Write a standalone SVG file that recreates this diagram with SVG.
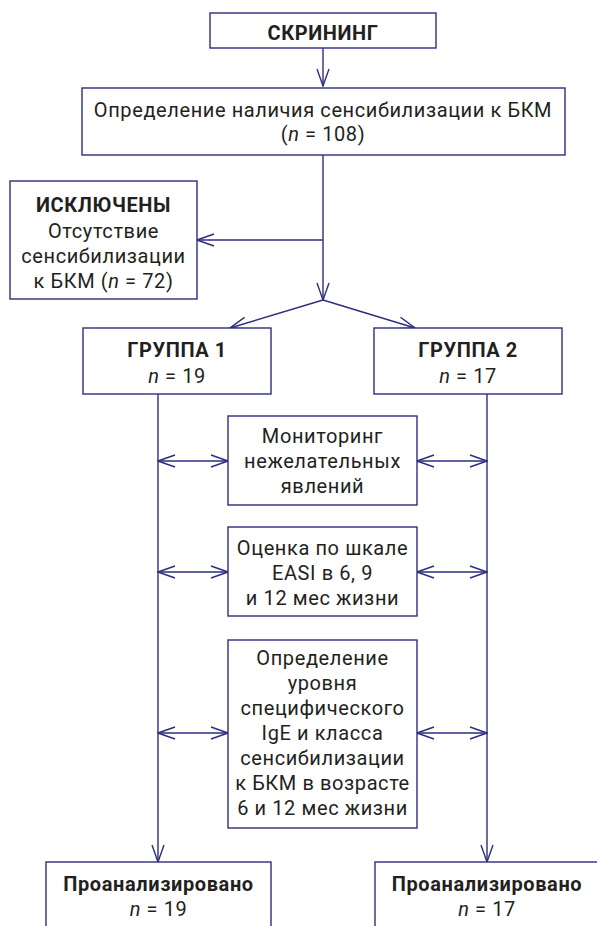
<svg xmlns="http://www.w3.org/2000/svg" width="597" height="926" viewBox="0 0 597 926">
<defs>
<style>
.box{fill:#fff;stroke:#2e2d7f;stroke-width:1.4}
.ln{fill:none;stroke:#2e2d7f;stroke-width:1.4}
text{font-family:Roboto,"Liberation Sans",sans-serif;font-size:20px;fill:#231f20;text-anchor:middle;letter-spacing:0.6px}
.b{font-weight:bold}
.i{font-style:italic}
</style>
<marker id="ah" viewBox="-18 -7 19 14" refX="0" refY="0" markerWidth="19" markerHeight="14" markerUnits="userSpaceOnUse" orient="auto-start-reverse">
<path d="M-17,-6 L0,0 L-17,6" fill="none" stroke="#2e2d7f" stroke-width="1.4"/>
</marker>
</defs>
<rect width="597" height="926" fill="#fff"/>
<g id="connectors">
<line class="ln" x1="323" y1="48" x2="323" y2="86" marker-end="url(#ah)"/>
<line class="ln" x1="323" y1="155" x2="323" y2="300" marker-end="url(#ah)"/>
<line class="ln" x1="323" y1="240" x2="197" y2="240" marker-end="url(#ah)"/>
<line class="ln" x1="323" y1="300" x2="230" y2="328" marker-end="url(#ah)"/>
<line class="ln" x1="323" y1="300" x2="415" y2="328" marker-end="url(#ah)"/>
<line class="ln" x1="158" y1="394" x2="158" y2="862" marker-end="url(#ah)"/>
<line class="ln" x1="487" y1="394" x2="487" y2="862" marker-end="url(#ah)"/>
<line class="ln" x1="158" y1="461" x2="228" y2="461" marker-start="url(#ah)" marker-end="url(#ah)"/>
<line class="ln" x1="417" y1="461" x2="487" y2="461" marker-start="url(#ah)" marker-end="url(#ah)"/>
<line class="ln" x1="158" y1="572" x2="228" y2="572" marker-start="url(#ah)" marker-end="url(#ah)"/>
<line class="ln" x1="417" y1="572" x2="487" y2="572" marker-start="url(#ah)" marker-end="url(#ah)"/>
<line class="ln" x1="158" y1="733" x2="228" y2="733" marker-start="url(#ah)" marker-end="url(#ah)"/>
<line class="ln" x1="417" y1="733" x2="487" y2="733" marker-start="url(#ah)" marker-end="url(#ah)"/>
</g>
<g id="screening">
<rect class="box" x="210" y="13" width="226" height="35"/>
<text class="b" x="323" y="40">СКРИНИНГ</text>
</g>
<g id="sensitization">
<rect class="box" x="82" y="88" width="483" height="67"/>
<text x="323" y="117">Определение наличия сенсибилизации к БКМ</text>
<text x="323" y="141">(<tspan class="i">n</tspan> = 108)</text>
</g>
<g id="excluded">
<rect class="box" x="10" y="181" width="187" height="118"/>
<text class="b" x="103.5" y="212">ИСКЛЮЧЕНЫ</text>
<text x="103.5" y="238">Отсутствие</text>
<text x="103.5" y="263">сенсибилизации</text>
<text x="103.5" y="288">к БКМ (<tspan class="i">n</tspan> = 72)</text>
</g>
<g id="group1">
<rect class="box" x="83" y="328" width="188" height="66"/>
<text class="b" x="177" y="357">ГРУППА 1</text>
<text x="177" y="383"><tspan class="i">n</tspan> = 19</text>
</g>
<g id="group2">
<rect class="box" x="374" y="328" width="188" height="66"/>
<text class="b" x="468" y="357">ГРУППА 2</text>
<text x="468" y="383"><tspan class="i">n</tspan> = 17</text>
</g>
<g id="monitoring">
<rect class="box" x="228" y="416" width="189" height="89"/>
<text x="322.5" y="443">Мониторинг</text>
<text x="322.5" y="468">нежелательных</text>
<text x="322.5" y="493">явлений</text>
</g>
<g id="easi">
<rect class="box" x="228" y="527" width="189" height="89"/>
<text x="322.5" y="555">Оценка по шкале</text>
<text x="322.5" y="580">EASI в 6, 9</text>
<text x="322.5" y="605">и 12 мес жизни</text>
</g>
<g id="ige">
<rect class="box" x="228" y="640" width="189" height="188"/>
<text x="322.5" y="665">Определение</text>
<text x="322.5" y="690">уровня</text>
<text x="322.5" y="715">специфического</text>
<text x="322.5" y="740">IgE и класса</text>
<text x="322.5" y="765">сенсибилизации</text>
<text x="322.5" y="790">к БКМ в возрасте</text>
<text x="322.5" y="815">6 и 12 мес жизни</text>
</g>
<g id="analyzed1">
<rect class="box" x="46" y="862" width="225" height="80"/>
<text class="b" x="158.5" y="891">Проанализировано</text>
<text x="158.5" y="916"><tspan class="i">n</tspan> = 19</text>
</g>
<g id="analyzed2">
<rect class="box" x="375" y="862" width="240" height="80"/>
<text class="b" x="487" y="891">Проанализировано</text>
<text x="487" y="916"><tspan class="i">n</tspan> = 17</text>
</g>
</svg>
